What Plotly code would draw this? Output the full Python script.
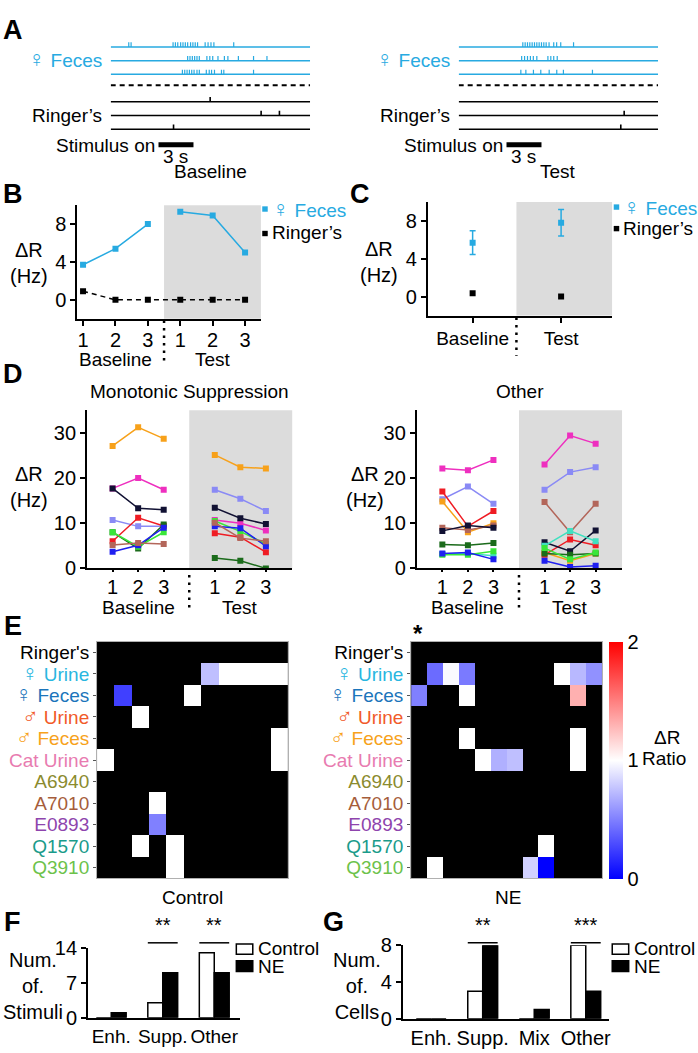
import plotly.graph_objects as go

W, H = 698, 1053
FONT = "Liberation Sans, Arial, sans-serif"
CYAN = "#27aae1"
GRAY = "#dcdcdc"

# ---------------- data ----------------
# A: spike times in s (stimulus onset = 0), three trials per stimulus
base_feces_spikes = [
    [-2.55, -2.35, 1.25, 1.45, 1.65, 1.9, 2.1, 2.3, 2.5, 2.75, 2.95, 3.15, 3.35, 4.0, 4.25, 4.5, 4.75, 6.45],
    [2.5, 2.7, 2.9, 3.1, 3.3, 3.5, 4.15, 4.4, 4.65, 5.1, 5.65, 5.95, 6.85, 8.15, 9.3],
    [2.05, 2.25, 2.45, 2.65, 2.85, 3.05, 3.3, 3.5, 4.1, 4.35, 4.55, 4.8, 5.4, 5.6, 8.15],
]
base_ringer_spikes = [[4.43], [8.8, 10.37], [1.29]]
test_feces_spikes = [
    [1.4, 1.6, 1.8, 2.0, 2.2, 2.4, 2.6, 2.8, 3.0, 3.2, 3.4, 3.65, 4.05, 4.3, 4.65, 5.75],
    [1.3, 1.55, 1.8, 2.05, 2.3, 2.6, 3.55, 3.8, 4.05, 4.35],
    [1.23, 1.66, 2.31, 2.94, 3.66, 4.31, 4.88, 7.37],
]
test_ringer_spikes = [[], [10.09], [9.8]]
window = [-4.1, 13.0]
stimulus = [0, 3]

# B: single cell, per trial
trial_labels = ["1", "2", "3", "1", "2", "3"]
b_feces = [3.7, 5.4, 8.0, 9.3, 8.9, 5.0]
b_ringer = [0.9, 0, 0, 0, 0, 0]

# C: mean +/- sem
c_conditions = ["Baseline", "Test"]
c_feces = [5.7, 7.8]
c_feces_err = [1.25, 1.4]
c_ringer = [0.35, 0.0]

# D: per-cell responses (baseline 1-3, test 1-3)
mono_colors = ["#f7a11a", "#ee2fbf", "#111133", "#8a8af5", "#ef1c24",
               "#1b6b1b", "#39e639", "#1f1ff0", "#b3665a"]
mono_values = [
    [27.1, 31.2, 28.7, 25.1, 22.4, 22.1],
    [17.7, 20.0, 17.4, 10.7, 10.0, 8.4],
    [17.7, 13.3, 13.0, 13.4, 11.1, 9.8],
    [10.7, 9.3, 9.3, 17.4, 15.4, 12.7],
    [6.0, 11.2, 9.4, 7.8, 6.9, 3.6],
    [8.0, 4.4, 9.7, 2.3, 1.7, 0.0],
    [8.0, 4.8, 8.0, 10.5, 8.2, 5.4],
    [3.7, 5.1, 9.0, 9.3, 8.9, 4.9],
    [5.2, 5.6, 5.4, 10.1, 6.7, 6.0],
]
other_colors = ["#ee2fbf", "#8a8af5", "#ef1c24", "#f7a11a", "#b3665a",
                "#111133", "#1b6b1b", "#40e0c0", "#39e639", "#1f1ff0"]
other_values = [
    [22.1, 21.7, 24.0, 23.0, 29.4, 27.6],
    [15.3, 18.1, 14.3, 17.4, 21.3, 22.4],
    [17.0, 9.3, 12.7, 3.0, 6.4, 5.1],
    [14.8, 8.0, 10.0, 3.5, 1.7, 3.3],
    [9.0, 8.5, 9.5, 14.7, 8.0, 14.3],
    [8.3, 9.5, 9.0, 5.8, 3.8, 8.4],
    [5.3, 5.1, 5.6, 3.3, 3.0, 3.3],
    [3.2, 3.3, 2.8, 5.0, 8.3, 6.0],
    [3.0, 3.0, 3.8, 4.5, 2.0, 3.5],
    [3.3, 3.5, 2.0, 1.7, 0.3, 0.6],
]

# E: response ratio (None = no response)
FEM = "<span style='font-size:23px'>♀</span>"
MALE = "<span style='font-size:22px'>♂</span>"
stimuli = ["Ringer's", FEM + " Urine", FEM + " Feces", MALE + " Urine", MALE + " Feces", "Cat Urine",
           "A6940", "A7010", "E0893", "Q1570", "Q3910"]
stimulus_colors = ["#000000", "#29b6e0", "#1b75bb", "#f15a29", "#f7a21b", "#e87bb0",
                   "#8b8b2e", "#a65d3a", "#8e44ad", "#1a9b8a", "#6cc24a"]
N = None
control_ratio = [
    [N, N, N, N, N, N, N, N, N, N, N],
    [N, N, N, N, N, N, 0.75, 1, 1, 1, 1],
    [N, 0.25, N, N, N, 1, N, N, N, N, N],
    [N, N, 1, N, N, N, N, N, N, N, N],
    [N, N, N, N, N, N, N, N, N, N, 1],
    [1, N, N, N, N, N, N, N, N, N, 1],
    [N, N, N, N, N, N, N, N, N, N, N],
    [N, N, N, 1, N, N, N, N, N, N, N],
    [N, N, N, 0.5, N, N, N, N, N, N, N],
    [N, N, 1, N, 1, N, N, N, N, N, N],
    [N, N, N, N, 1, N, N, N, N, N, N],
]
ne_ratio = [
    [N, N, N, N, N, N, N, N, N, N, N, N],
    [N, 0.42, 0.98, 0.48, N, N, N, N, N, 1, 0.72, 0.57],
    [0.5, N, N, 1, N, N, N, N, N, N, 1.31, N],
    [N, N, N, N, N, N, N, N, N, N, N, N],
    [N, N, N, 1, N, N, N, N, N, N, 1, N],
    [N, N, N, N, 1, 0.69, 0.75, N, N, N, 1, N],
    [N, N, N, N, N, N, N, N, N, N, N, N],
    [N, N, N, N, N, N, N, N, N, N, N, N],
    [N, N, N, N, N, N, N, N, N, N, N, N],
    [N, N, N, N, N, N, N, N, 1, N, N, N],
    [N, 1, N, N, N, N, N, 0.82, 0.0, N, N, N],
]

# F / G: counts
f_cats = ["Enh.", "Supp.", "Other"]
f_control = [0, 3, 13]
f_ne = [1, 9, 9]
g_cats = ["Enh.", "Supp.", "Mix", "Other"]
g_control = [0, 3, 0, 8]
g_ne = [0, 8, 1, 3]


# ---------------- helpers ----------------
def fx(px):
    return px / W


def fy(py):
    return 1 - py / H


def dom_x(a, b):
    return [fx(a), fx(b)]


def dom_y(top, bottom):
    return [fy(bottom), fy(top)]


annotations = []
shapes = []


def txt(x, y, text, size=19, color="black", xanchor="center", xref="paper", bold=False):
    if bold:
        text = "<b>" + text + "</b>"
    annotations.append(dict(x=x if xref != "paper" else fx(x), y=fy(y), xref=xref, yref="paper",
                            text=text, showarrow=False, xanchor=xanchor, yanchor="middle",
                            font=dict(size=size, color=color, family=FONT)))


def rect_px(x0, y0, x1, y1, fill, line="rgba(0,0,0,0)", lw=0):
    shapes.append(dict(type="rect", xref="paper", yref="paper", x0=fx(x0), x1=fx(x1),
                       y0=fy(y1), y1=fy(y0), fillcolor=fill, line=dict(color=line, width=lw)))


def dotted(xref, xval, top, bottom):
    shapes.append(dict(type="line", xref=xref, yref="paper", x0=xval, x1=xval,
                       y0=fy(top), y1=fy(bottom), line=dict(color="black", width=2.5, dash="2.5px,5px")))


def shade(xref, yref, x0, x1):
    shapes.append(dict(type="rect", xref=xref, yref=yref + " domain", x0=x0, x1=x1, y0=0, y1=1,
                       fillcolor=GRAY, line=dict(width=0), layer="below"))


def split_line(xs, vals):
    return xs[:3] + [None] + xs[3:], vals[:3] + [None] + vals[3:]


fig = go.Figure()

# ---------------- A: rasters ----------------
FECES_ROWS = [8, 7, 6]
RINGER_ROWS = [4, 3, 2]


def raster(feces, ringer, xa, ya):
    for row in FECES_ROWS:
        fig.add_trace(go.Scatter(x=window, y=[row, row], mode="lines", line=dict(color=CYAN, width=1.5),
                                 xaxis=xa, yaxis=ya, hoverinfo="skip"))
    for row in RINGER_ROWS:
        fig.add_trace(go.Scatter(x=window, y=[row, row], mode="lines", line=dict(color="black", width=1.5),
                                 xaxis=xa, yaxis=ya, hoverinfo="skip"))
    fig.add_trace(go.Scatter(x=window, y=[5.2, 5.2], mode="lines",
                             line=dict(color="black", width=2, dash="5px,4px"),
                             xaxis=xa, yaxis=ya, hoverinfo="skip"))
    for spikes, rows, color, w in [(feces, FECES_ROWS, CYAN, 1.2), (ringer, RINGER_ROWS, "black", 1.6)]:
        xs, ys = [], []
        for trial, row in zip(spikes, rows):
            for t in trial:
                xs += [t, t, None]
                ys += [row, row + 0.34, None]
        fig.add_trace(go.Scatter(x=xs, y=ys, mode="lines", line=dict(color=color, width=w),
                                 xaxis=xa, yaxis=ya, hoverinfo="skip"))
    fig.add_trace(go.Scatter(x=stimulus, y=[0.86, 0.86], mode="lines", line=dict(color="black", width=5),
                             xaxis=xa, yaxis=ya, hoverinfo="skip"))


raster(base_feces_spikes, base_ringer_spikes, "x", "y")
raster(test_feces_spikes, test_ringer_spikes, "x2", "y2")

for off, name in [(0, "Baseline"), (349, "Test")]:
    txt(104 + off, 49, FEM + " Feces", color=CYAN, xanchor="right")
    txt(104 + off, 107, "Ringer’s", xanchor="right")
    txt(157 + off, 137, "Stimulus on", xanchor="right")
    txt(176.5 + off, 149, "3 s")
    txt(211 + off, 164, name)

# ---------------- B ----------------
TR = [1, 2, 3, 4, 5, 6]
bx, by = split_line(TR, b_feces)
fig.add_trace(go.Scatter(x=bx, y=by, mode="lines+markers", line=dict(color=CYAN, width=1.5),
                         marker=dict(symbol="square", size=6, color=CYAN), xaxis="x3", yaxis="y3"))
fig.add_trace(go.Scatter(x=TR, y=b_ringer, mode="lines+markers",
                         line=dict(color="black", width=1.5, dash="5px,4px"),
                         marker=dict(symbol="square", size=6, color="black"), xaxis="x3", yaxis="y3"))
shade("x3", "y3", 3.5, 6.49)
dotted("x3", 3.5, 316, 360)
txt(2, 356, "Baseline", xref="x3")
txt(5, 356, "Test", xref="x3")
txt(29, 257, "ΔR<br>(Hz)", size=20)
rect_px(263, 199.5, 268.5, 205, CYAN)
txt(271, 202, FEM + " Feces", color=CYAN, xanchor="left")
rect_px(263, 224.5, 268.5, 230, "black")
txt(271, 226, "Ringer’s", xanchor="left")

# ---------------- C ----------------
fig.add_trace(go.Scatter(x=[1, 2], y=c_feces, mode="markers",
                         error_y=dict(type="data", array=c_feces_err, color=CYAN, thickness=1.5, width=3),
                         marker=dict(symbol="square", size=6, color=CYAN), xaxis="x4", yaxis="y4"))
fig.add_trace(go.Scatter(x=[1, 2], y=c_ringer, mode="markers",
                         marker=dict(symbol="square", size=6, color="black"), xaxis="x4", yaxis="y4"))
shade("x4", "y4", 1.495, 2.578)
dotted("x4", 1.495, 313, 352)
txt(380, 256, "ΔR<br>(Hz)", size=20)
rect_px(615.5, 197.5, 621, 203, CYAN)
txt(623, 200, FEM + " Feces", color=CYAN, xanchor="left")
rect_px(615.5, 219.5, 621, 225, "black")
txt(623, 222, "Ringer’s", xanchor="left")

# ---------------- D ----------------
DX = [1, 2, 3, 5, 6, 7]
for vals, col, xa, ya in ([(v, c, "x5", "y5") for v, c in zip(mono_values, mono_colors)] +
                          [(v, c, "x6", "y6") for v, c in zip(other_values, other_colors)]):
    lx, ly = split_line(DX, vals)
    fig.add_trace(go.Scatter(x=lx, y=ly, mode="lines+markers", line=dict(color=col, width=1.5),
                             marker=dict(symbol="square", size=6, color=col), xaxis=xa, yaxis=ya))
for xa, ya in [("x5", "y5"), ("x6", "y6")]:
    shade(xa, ya, 4, 8.04)
    dotted(xa, 4, 576, 614)
    txt(2, 609, "Baseline", xref=xa)
    txt(6, 609, "Test", xref=xa)
txt(190, 389, "Monotonic Suppression")
txt(521, 389, "Other")
txt(29, 486, "ΔR<br>(Hz)", size=20)
txt(366, 486, "ΔR<br>(Hz)", size=20)

# ---------------- E ----------------
for z, xa, ya in [(control_ratio, "x7", "y7"), (ne_ratio, "x8", "y8")]:
    shapes.append(dict(type="rect", xref=xa + " domain", yref=ya + " domain", x0=0, x1=1, y0=0, y1=1,
                       fillcolor="black", line=dict(width=0), layer="below"))
    fig.add_trace(go.Heatmap(z=z, x=list(range(len(z[0]))), y=list(range(len(stimuli))),
                             coloraxis="coloraxis", xaxis=xa, yaxis=ya, hoverongaps=False))
txt(193, 905, "Control")
txt(509, 905, "NE")
txt(419, 636, "*", size=24, bold=True)
txt(669, 742, "ΔR")
txt(642, 763, "Ratio", xanchor="left")

# ---------------- F / G ----------------
for cats, ctrl, ne, xa, ya in [(f_cats, f_control, f_ne, "x9", "y9"), (g_cats, g_control, g_ne, "x10", "y10")]:
    fig.add_trace(go.Bar(x=list(range(len(cats))), y=ctrl,
                         marker=dict(color="white", line=dict(color="black", width=1.5)), xaxis=xa, yaxis=ya))
    fig.add_trace(go.Bar(x=list(range(len(cats))), y=ne,
                         marker=dict(color="black", line=dict(color="black", width=1.5)), xaxis=xa, yaxis=ya))


def sig(xa, xc, stars):
    shapes.append(dict(type="line", xref=xa, yref="paper", x0=xc - 0.29, x1=xc + 0.29,
                       y0=fy(951.7), y1=fy(951.7), line=dict(color="black", width=1.5)))
    annotations.append(dict(x=xc, y=fy(947), xref=xa, yref="paper", text=stars, showarrow=False,
                            font=dict(size=20, family=FONT, color="black")))


sig("x9", 1, "**")
sig("x9", 2, "**")
sig("x10", 1, "**")
sig("x10", 3, "***")
txt(33, 996, "Num.<br>of.<br>Stimuli", size=20)
txt(358, 996, "Num.<br>of.<br>Cells", size=20)
for lx in [237, 614]:
    rect_px(lx, 953, lx + 16.5, 963.5, "white", "black", 1.5)
    rect_px(lx, 970, lx + 16.5, 981, "black", "black", 1.5)
    txt(lx + 20, 958, "Control", xanchor="left")
    txt(lx + 20, 976, "NE", xanchor="left")

# ---------------- panel letters ----------------
for letter, x, y in [("A", 13, 19), ("B", 13, 187), ("C", 361, 187), ("D", 13, 371),
                     ("E", 13, 628), ("F", 13, 930), ("G", 334, 930)]:
    txt(x, y, letter, size=27, bold=True)

# ---------------- axes ----------------
hidden = dict(visible=False, showgrid=False, zeroline=False)
line_ax = dict(showline=True, linecolor="black", linewidth=2, ticks="outside", ticklen=5, tickwidth=2,
               tickcolor="black", showgrid=False, zeroline=False, tickfont=dict(size=20), tickangle=0)

layout = dict(
    xaxis=dict(hidden, domain=dom_x(111, 311), range=window, anchor="y"),
    yaxis=dict(hidden, domain=dom_y(22.7, 148.7), range=[0, 9], anchor="x"),
    xaxis2=dict(hidden, domain=dom_x(460, 660), range=window, anchor="y2"),
    yaxis2=dict(hidden, domain=dom_y(22.7, 148.7), range=[0, 9], anchor="x2"),
    xaxis3=dict(line_ax, domain=dom_x(77.7, 261.7), range=[0.828, 6.49], anchor="y3",
                tickvals=TR, ticktext=trial_labels, ticklabelstandoff=-3),
    yaxis3=dict(line_ax, domain=dom_y(198.3, 314.3), range=[-2, 10], anchor="x3", tickvals=[0, 4, 8]),
    xaxis4=dict(line_ax, domain=dom_x(429, 614), range=[0.493, 2.578], anchor="y4",
                tickvals=[1, 2], ticktext=c_conditions, tickfont=dict(size=19)),
    yaxis4=dict(line_ax, domain=dom_y(195, 311), range=[-2, 10], anchor="x4", tickvals=[0, 4, 8]),
    xaxis5=dict(line_ax, domain=dom_x(87.3, 293.3), range=[0, 8.04], anchor="y5",
                tickvals=DX, ticktext=trial_labels, ticklen=2, ticklabelstandoff=-2),
    yaxis5=dict(line_ax, domain=dom_y(407.7, 569.3), range=[0, 35], anchor="x5", tickvals=[0, 10, 20, 30]),
    xaxis6=dict(line_ax, domain=dom_x(418, 624), range=[0, 8.04], anchor="y6",
                tickvals=DX, ticktext=trial_labels, ticklen=2, ticklabelstandoff=-2),
    yaxis6=dict(line_ax, domain=dom_y(407.7, 569.3), range=[0, 35], anchor="x6", tickvals=[0, 10, 20, 30]),
    xaxis9=dict(line_ax, domain=dom_x(88.3, 240.7), range=[-0.45, 2.5], anchor="y9",
                tickvals=[0, 1, 2], ticktext=f_cats, ticks="", tickfont=dict(size=19)),
    yaxis9=dict(line_ax, domain=dom_y(956.7, 1028.3), range=[0, 14], anchor="x9", tickvals=[0, 7, 14]),
    xaxis10=dict(line_ax, domain=dom_x(404, 610.7), range=[-0.55, 3.45], anchor="y10",
                 tickvals=[0, 1, 2, 3], ticktext=g_cats, ticks=""),
    yaxis10=dict(line_ax, domain=dom_y(954.3, 1029.3), range=[0, 8], anchor="x10", tickvals=[0, 4, 8]),
)
colored_labels = [f"<span style='color:{c}'>{s}</span>" for s, c in zip(stimuli, stimulus_colors)]
for i, (x0, x1, ncol) in zip([7, 8], [(97.3, 288.7, 11), (412.3, 603.7, 12)]):
    layout[f"xaxis{i}"] = dict(domain=dom_x(x0, x1), range=[-0.5, ncol - 0.5], anchor=f"y{i}",
                               showticklabels=False, ticks="", showgrid=False, zeroline=False,
                               showline=True, mirror=True, linecolor="#b0b0b0", linewidth=1)
    layout[f"yaxis{i}"] = dict(domain=dom_y(644, 886), range=[10.5, -0.5], anchor=f"x{i}",
                               tickvals=list(range(len(stimuli))), ticktext=colored_labels,
                               ticks="outside", ticklen=3, tickwidth=1, tickcolor="#555",
                               showgrid=False, zeroline=False, showline=True, mirror=True,
                               linecolor="#b0b0b0", linewidth=1, tickfont=dict(size=19))

fig.update_layout(
    **layout,
    coloraxis=dict(cmin=0, cmax=2,
                   colorscale=[[0, "rgb(0,0,255)"], [0.5, "rgb(255,255,255)"], [1, "rgb(255,0,0)"]],
                   colorbar=dict(x=fx(611), xanchor="left", y=fy(644), yanchor="top", len=242 / H,
                                 thickness=14, outlinewidth=0, tickvals=[0, 1, 2], ticks="",
                                 tickfont=dict(size=20), xpad=0, ypad=0)),
    annotations=annotations,
    shapes=shapes,
    width=W, height=H,
    margin=dict(l=0, r=0, t=0, b=0),
    plot_bgcolor="white", paper_bgcolor="white",
    showlegend=False,
    barmode="group", bargap=0.42,
    font=dict(family=FONT, size=19, color="black"),
)

fig.write_html("out.html", config={"displayModeBar": False},
               post_script="document.body.style.margin='0';document.body.style.overflow='hidden';")
